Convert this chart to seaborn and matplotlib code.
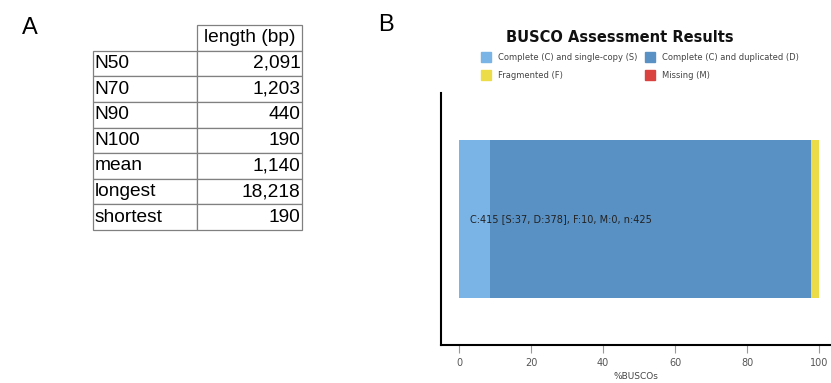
import seaborn as sns
import pandas as pd
import numpy as np
import matplotlib.pyplot as plt
from matplotlib.patches import Patch

# assembly stats (panel A)
stat_names = ["N50", "N70", "N90", "N100", "mean", "longest", "shortest"]
stat_values = ["2,091", "1,203", "440", "190", "1,140", "18,218", "190"]

# BUSCO counts (panel B)
busco_cats = ["Complete (C) and single-copy (S)", "Complete (C) and duplicated (D)",
              "Fragmented (F)", "Missing (M)"]
busco_counts = [37, 378, 10, 0]
busco_total = 425
busco_colors = ["#7ab3e5", "#5a91c4", "#ebdc48", "#d9423f"]

sns.set_style("white")
plt.rcParams['font.family'] = ['DejaVu Sans']

fig = plt.figure(figsize=(8.31, 3.83), dpi=100)

# ---- panel A: table
fig.text(22/831, 1-28/383, "A", fontsize=17, family="Liberation Sans", va="center", ha="left", color="black")
tax = fig.add_axes([93/831, 1-230/383, 209/831, 205/383])
tax.axis("off")
cells = [["", "length (bp)"]] + [[n, v] for n, v in zip(stat_names, stat_values)]
tbl = tax.table(cellText=cells, bbox=[0, 0, 1, 1], colWidths=[104/209, 105/209])
tbl.auto_set_font_size(False)
for (r, c), cell in tbl.get_celld().items():
    cell.set_edgecolor("#808080")
    cell.set_linewidth(0.9)
    t = cell.get_text()
    t.set_fontsize(13.8)
    t.set_fontfamily("Liberation Sans")
    t.set_color("black")
    cell.PAD = 0.015
    if r == 0 and c == 0:
        cell.visible_edges = "open"
    if c == 0:
        t.set_ha("left")
    else:
        t.set_ha("right" if r > 0 else "center")

# ---- panel B: BUSCO stacked bar
fig.text(378/831, 1-25/383, "B", fontsize=17, family="Liberation Sans", va="center", ha="left", color="black")
ax = fig.add_axes([441/831, 38/383, 1 - 441/831, 252/383])

pct = np.array(busco_counts) / busco_total * 100
cum = np.cumsum(pct)
df = pd.DataFrame({"grp": ["b"] * 3, "val": cum[:3][::-1], "cat": busco_cats[:3][::-1]})
for i, row in df.iterrows():
    col = busco_colors[2 - i]
    sns.barplot(x=[row["val"]], y=["b"], orient="h", color=col, saturation=1,
                width=0.8, ax=ax, linewidth=0)

ax.set_xlim(-5, 103.3)
ax.set_ylim(0.638, -0.638)
ax.set_yticks([])
ax.set_ylabel("")
ax.set_xticks([0, 20, 40, 60, 80, 100])
ax.tick_params(axis="x", bottom=True, length=6, width=0.8, color="#999999",
               labelsize=7, labelcolor="#555555", pad=3)
ax.set_xlabel("%BUSCOs", fontsize=6.5, color="#444444", labelpad=3)
for s in ["top", "right"]:
    ax.spines[s].set_visible(False)
ax.spines["left"].set_linewidth(1.5)
ax.spines["bottom"].set_linewidth(1.5)
ax.spines["left"].set_color("black")
ax.spines["bottom"].set_color("black")

c, s_, d, f, m = busco_counts[0] + busco_counts[1], busco_counts[0], busco_counts[1], busco_counts[2], busco_counts[3]
ax.text(3, 0, f"C:{c} [S:{s_}, D:{d}], F:{f}, M:{m}, n:{busco_total}",
        fontsize=7, va="center", ha="left", color="#222222")

fig.text(620/831, 1-37/383, "BUSCO Assessment Results", fontsize=10.5,
         fontweight="bold", ha="center", va="center", color="#111111")
handles = [Patch(color=busco_colors[i]) for i in [0, 2, 1, 3]]
labels = [busco_cats[i] for i in [0, 2, 1, 3]]
leg = fig.legend(handles, labels, ncol=2, loc="center", bbox_to_anchor=(640/831, 1-66/383),
                 frameon=False, fontsize=6, handlelength=1.2, handleheight=1.6,
                 columnspacing=1.0, labelspacing=0.85, handletextpad=0.8)
for t in leg.get_texts():
    t.set_color("#444444")

fig.savefig("out.png", dpi=100)
